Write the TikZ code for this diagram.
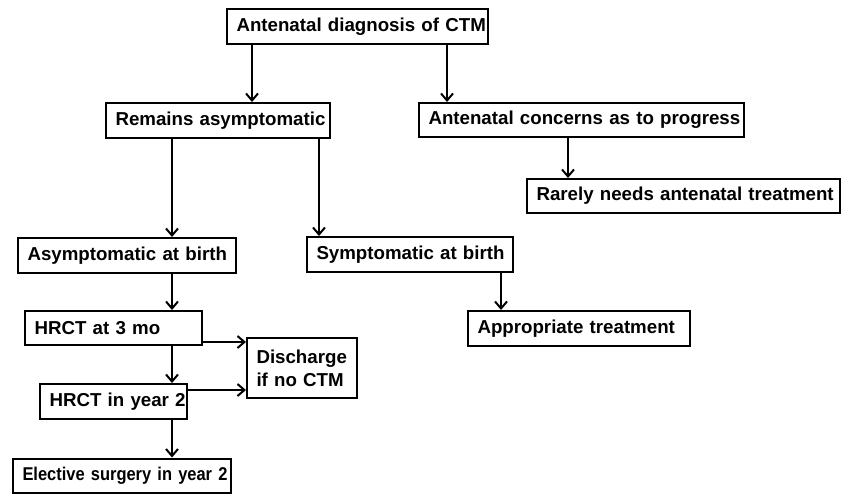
\documentclass[tikz,border=0pt]{standalone}
\usepackage{fontspec}
\setmainfont{Liberation Sans}
\newfontfamily\condfont[FakeStretch=0.89]{Liberation Sans}
\usetikzlibrary{arrows.meta}
\begin{document}
\begin{tikzpicture}[x=1pt,y=-1pt,
  box/.style={draw, line width=2pt, inner xsep=0pt, inner ysep=0pt, anchor=north west, align=left,
    text width=#1, font=\bfseries\fontsize{18.7}{23}\selectfont,
    execute at begin node={\hyphenpenalty=10000\relax\hspace*{9.5pt}}},
  arr/.style={-{Straight Barb[length=7pt,width=12pt,line width=2pt]}, line width=2pt}]
\useasboundingbox (0,0) rectangle (846,493);
\node[box=261pt, minimum height=35pt] (T) at (226,8) {Antenatal diagnosis of CTM};
\node[box=224pt, minimum height=35pt] (R) at (105,102) {Remains asymptomatic};
\node[box=325pt, minimum height=34pt] (A) at (418,102) {Antenatal concerns as to progress};
\node[box=313pt, minimum height=34pt] (RN) at (526,178) {Rarely needs antenatal treatment};
\node[box=218pt, minimum height=35pt] (AB) at (17,237) {Asymptomatic at birth};
\node[box=206pt, minimum height=35pt] (SB) at (306,236) {Symptomatic at birth};
\node[box=222pt, minimum height=35pt] (AT) at (467,310) {Appropriate treatment};
\node[box=177pt, minimum height=34pt] (H3) at (24,310) {HRCT at 3 mo};
\node[box=147pt, minimum height=35pt] (H2) at (39,383) {HRCT in year 2};
\node[box=110pt, minimum height=60pt] (D) at (246,337) {Discharge\\\hspace*{9.5pt}if no CTM};
\node[box=218pt, minimum height=34pt, font=\condfont\bfseries\fontsize{18.5}{22}\selectfont] (E) at (12,457.5) {Elective surgery in year 2};
\coordinate (x1) at (252,0);
\coordinate (x2) at (447,0);
\coordinate (x3) at (172,0);
\coordinate (x4) at (319,0);
\coordinate (x5) at (568,0);
\coordinate (x6) at (501,0);
\coordinate (y1) at (0,342);
\coordinate (y2) at (0,390);
\draw[arr] (T.south -| x1) -- (R.north -| x1);
\draw[arr] (T.south -| x2) -- (A.north -| x2);
\draw[arr] (R.south -| x3) -- (AB.north -| x3);
\draw[arr] (R.south -| x4) -- (SB.north -| x4);
\draw[arr] (A.south -| x5) -- (RN.north -| x5);
\draw[arr] (SB.south -| x6) -- (AT.north -| x6);
\draw[arr] (AB.south -| x3) -- (H3.north -| x3);
\draw[arr] (H3.south -| x3) -- (H2.north -| x3);
\draw[arr] (H2.south -| x3) -- (E.north -| x3);
\draw[arr] (H3.east |- y1) -- (D.west |- y1);
\draw[arr] (H2.east |- y2) -- (D.west |- y2);
\end{tikzpicture}
\end{document}
